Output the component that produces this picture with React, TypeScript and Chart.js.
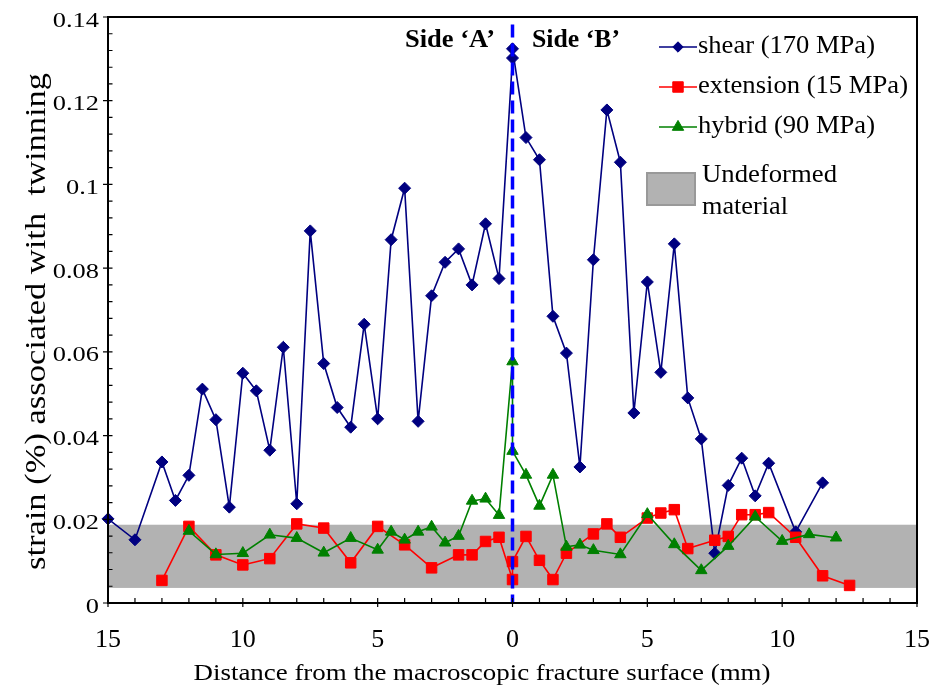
import { useEffect, useRef } from 'react';
import { Chart, registerables } from 'chart.js';

Chart.register(...registerables);

// Distance from the macroscopic fracture surface in mm (negative = side A, positive = side B)
// and strain (%) associated with twinning, one pair of arrays per test.
const shearX = [
  -15, -14, -13, -12.5, -12, -11.5, -11, -10.5, -10, -9.5, -9, -8.5, -8, -7.5, -7, -6.5, -6, -5.5, -5,
  -4.5, -4, -3.5, -3, -2.5, -2, -1.5, -1, -0.5, 0, 0, 0.5, 1, 1.5, 2, 2.5, 3, 3.5, 4, 4.5, 5, 5.5, 6,
  6.5, 7, 7.5, 8, 8.5, 9, 9.5, 10.5, 11.5,
];
const shearY = [
  0.0201, 0.0151, 0.0337, 0.0245, 0.0305, 0.0511, 0.0438, 0.0229, 0.0549, 0.0507, 0.0365, 0.0611,
  0.0237, 0.0889, 0.0572, 0.0467, 0.042, 0.0666, 0.044, 0.0868, 0.0991, 0.0434, 0.0734, 0.0814,
  0.0846, 0.076, 0.0906, 0.0775, 0.1302, 0.1324, 0.1112, 0.1059, 0.0685, 0.0597, 0.0325, 0.082,
  0.1178, 0.1053, 0.0454, 0.0767, 0.0551, 0.0858, 0.049, 0.0392, 0.0119, 0.0281, 0.0346, 0.0256,
  0.0334, 0.017, 0.0287,
];

const extensionX = [
  -13, -12, -11, -10, -9, -8, -7, -6, -5, -4, -3, -2, -1.5, -1, -0.5, 0, 0, 0.5, 1, 1.5, 2, 3, 3.5, 4,
  5, 5.5, 6, 6.5, 7.5, 8, 8.5, 9, 9.5, 10.5, 11.5, 12.5,
];
const extensionY = [
  0.0054, 0.0183, 0.0115, 0.0091, 0.0106, 0.0189, 0.0179, 0.0096, 0.0183, 0.0139, 0.0084, 0.0115,
  0.0115, 0.0147, 0.0157, 0.0056, 0.0099, 0.0159, 0.0102, 0.0056, 0.0119, 0.0165, 0.0189, 0.0157,
  0.0203, 0.0215, 0.0223, 0.013, 0.015, 0.0159, 0.0211, 0.0211, 0.0216, 0.0157, 0.0065, 0.0042,
];

const hybridX = [
  -12, -11, -10, -9, -8, -7, -6, -5, -4.5, -4, -3.5, -3, -2.5, -2, -1.5, -1, -0.5, 0, 0, 0.5, 1, 1.5,
  2, 2.5, 3, 4, 5, 6, 7, 8, 9, 10, 11, 12,
];
const hybridY = [
  0.0172, 0.0116, 0.0119, 0.0163, 0.0155, 0.012, 0.0155, 0.0127, 0.017, 0.0151, 0.017, 0.0182,
  0.0144, 0.016, 0.0244, 0.0249, 0.021, 0.0577, 0.0363, 0.0306, 0.0232, 0.0306, 0.0134, 0.0139,
  0.0126, 0.0116, 0.0212, 0.014, 0.0078, 0.0136, 0.0206, 0.0148, 0.0164, 0.0156,
];

// Band of strain measured in undeformed material
const undeformedLow = 0.0036;
const undeformedHigh = 0.0187;

// Axis ranges and tick spacing
const xMin = -15;
const xMax = 15;
const xStep = 5;
const xMinorStep = 1;
const yMin = 0;
const yMax = 0.14;
const yStep = 0.02;
const yMinorStep = 0.004;
const dividerTop = 0.1382;

const seriesLabels = ['shear (170 MPa)', 'extension (15 MPa)', 'hybrid (90 MPa)'];
const bandLabels = ['Undeformed', 'material'];
const sideLabels = ['Side \u2018A\u2019', 'Side \u2018B\u2019'];
const xTitle = 'Distance from the macroscopic fracture surface (mm)';
const yTitle = 'strain (%) associated with  twinning';

const SERIF = '"Liberation Serif", "Times New Roman", serif';
const NAVY = '#000080';
const RED = '#ff0000';
const GREEN = '#008000';
const BAND = '#b2b2b2';

type Shape = 'diamond' | 'square' | 'triangle';

const styles: { color: string; shape: Shape; chartStyle: string; radius: number }[] = [
  { color: NAVY, shape: 'diamond', chartStyle: 'rectRot', radius: 6 },
  { color: RED, shape: 'square', chartStyle: 'rect', radius: 7.4 },
  { color: GREEN, shape: 'triangle', chartStyle: 'triangle', radius: 6.6 },
];

function drawMarker(ctx: CanvasRenderingContext2D, shape: Shape, x: number, y: number, r: number, color: string) {
  ctx.save();
  ctx.fillStyle = color;
  ctx.strokeStyle = color;
  ctx.lineWidth = 1;
  ctx.beginPath();
  if (shape === 'diamond') {
    ctx.moveTo(x - r, y);
    ctx.lineTo(x, y - r);
    ctx.lineTo(x + r, y);
    ctx.lineTo(x, y + r);
  } else if (shape === 'square') {
    const h = r * Math.SQRT1_2;
    ctx.rect(x - h, y - h, 2 * h, 2 * h);
  } else {
    const s = r * Math.sin((2 * Math.PI) / 3);
    ctx.moveTo(x, y - r);
    ctx.lineTo(x + s, y + r / 2);
    ctx.lineTo(x - s, y + r / 2);
  }
  ctx.closePath();
  ctx.fill();
  ctx.stroke();
  ctx.restore();
}

// Text with an optional horizontal stretch (sx) or a fixed target width
function drawText(
  ctx: CanvasRenderingContext2D,
  text: string,
  x: number,
  y: number,
  font: string,
  align: CanvasTextAlign,
  opts: { sx?: number; width?: number } = {},
) {
  ctx.save();
  ctx.font = font;
  ctx.fillStyle = '#000';
  ctx.textAlign = align;
  ctx.textBaseline = 'alphabetic';
  let sx = opts.sx ?? 1;
  if (opts.width) sx = opts.width / ctx.measureText(text).width;
  ctx.translate(x, y);
  ctx.scale(sx, 1);
  ctx.fillText(text, 0, 0);
  ctx.restore();
}

const fmtY = (v: number) => (Math.abs(v) < 1e-9 ? '0' : String(+v.toFixed(2)));

const decorations = {
  id: 'decorations',
  beforeDatasetsDraw(chart: Chart) {
    const { ctx, chartArea: a } = chart;
    const ys = chart.scales.y;
    const top = ys.getPixelForValue(undeformedHigh);
    const bot = ys.getPixelForValue(undeformedLow);
    ctx.save();
    ctx.fillStyle = BAND;
    ctx.fillRect(a.left, top, a.right - a.left, bot - top);
    ctx.restore();
  },
  afterDraw(chart: Chart) {
    const { ctx, chartArea: a } = chart;
    const xs = chart.scales.x;
    const ys = chart.scales.y;
    const x0 = xs.getPixelForValue(0);

    // dashed line at the fracture surface
    ctx.save();
    ctx.strokeStyle = '#0000ff';
    ctx.lineWidth = 3.5;
    ctx.setLineDash([13, 6]);
    ctx.beginPath();
    ctx.moveTo(x0, ys.getPixelForValue(dividerTop));
    ctx.lineTo(x0, a.bottom);
    ctx.stroke();
    ctx.restore();

    // frame
    ctx.save();
    ctx.strokeStyle = '#000';
    ctx.lineWidth = 2;
    ctx.strokeRect(a.left, a.top, a.right - a.left, a.bottom - a.top);

    // y ticks (major crossing the axis, minor inside)
    ctx.lineWidth = 1.2;
    ctx.beginPath();
    const nY = Math.round((yMax - yMin) / yMinorStep);
    const perMajorY = Math.round(yStep / yMinorStep);
    for (let i = 0; i <= nY; i++) {
      const py = ys.getPixelForValue(yMin + i * yMinorStep);
      const major = i % perMajorY === 0;
      ctx.moveTo(major ? a.left - 5 : a.left, py);
      ctx.lineTo(a.left + 4.5, py);
    }
    // x ticks
    const nX = Math.round((xMax - xMin) / xMinorStep);
    const perMajorX = Math.round(xStep / xMinorStep);
    for (let i = 0; i <= nX; i++) {
      const px = xs.getPixelForValue(xMin + i * xMinorStep);
      const major = i % perMajorX === 0;
      ctx.moveTo(px, major ? a.bottom + 4 : a.bottom);
      ctx.lineTo(px, a.bottom - 5);
    }
    ctx.stroke();
    ctx.restore();

    // tick labels
    ys.ticks.forEach((t) => {
      const py = ys.getPixelForValue(t.value);
      drawText(ctx, fmtY(t.value), a.left - 9, py + 9.5, `22px ${SERIF}`, 'right', { sx: 1.2 });
    });
    xs.ticks.forEach((t) => {
      const px = xs.getPixelForValue(t.value);
      drawText(ctx, String(Math.abs(t.value)), px, a.bottom + 43.5, `25px ${SERIF}`, 'center', { sx: 1.04 });
    });

    // axis titles
    drawText(ctx, xTitle, 193.5, 680, `23px ${SERIF}`, 'left', { width: 577 });
    ctx.save();
    ctx.translate(45, 570);
    ctx.rotate(-Math.PI / 2);
    drawText(ctx, yTitle, 0, 0, `29px ${SERIF}`, 'left', { width: 497 });
    ctx.restore();

    // side labels either side of the fracture surface
    drawText(ctx, sideLabels[0], x0 - 17.5, 47, `bold 25px ${SERIF}`, 'right', { width: 90 });
    drawText(ctx, sideLabels[1], x0 + 19.5, 47, `bold 25px ${SERIF}`, 'left', { width: 88 });

    // legend
    const rowsY = [47, 87, 127];
    const widths = [177, 210, 177];
    seriesLabels.forEach((label, i) => {
      const st = styles[i];
      ctx.save();
      ctx.strokeStyle = st.color;
      ctx.lineWidth = 1.6;
      ctx.beginPath();
      ctx.moveTo(659, rowsY[i]);
      ctx.lineTo(697, rowsY[i]);
      ctx.stroke();
      ctx.restore();
      drawMarker(ctx, st.shape, 678, rowsY[i], i === 0 ? 5.2 : st.radius, st.color);
      drawText(ctx, label, 698, rowsY[i] + 5.5, `25px ${SERIF}`, 'left', { width: widths[i] });
    });
    ctx.save();
    ctx.fillStyle = BAND;
    ctx.strokeStyle = '#999999';
    ctx.lineWidth = 2;
    ctx.fillRect(647, 173, 48, 32);
    ctx.strokeRect(647, 173, 48, 32);
    ctx.restore();
    drawText(ctx, bandLabels[0], 702, 182, `25px ${SERIF}`, 'left', { width: 135 });
    drawText(ctx, bandLabels[1], 702, 214, `25px ${SERIF}`, 'left', { width: 86 });
  },
};

export default function App() {
  const ref = useRef<HTMLCanvasElement>(null);

  useEffect(() => {
    const sets = [
      { xs: shearX, ys: shearY, order: 3 },
      { xs: extensionX, ys: extensionY, order: 2 },
      { xs: hybridX, ys: hybridY, order: 1 },
    ];
    const chart = new Chart(ref.current as HTMLCanvasElement, {
      type: 'line',
      data: {
        datasets: sets.map((s, i) => ({
          label: seriesLabels[i],
          data: s.xs.map((x, j) => ({ x, y: s.ys[j] })),
          order: s.order,
          borderColor: styles[i].color,
          backgroundColor: styles[i].color,
          pointBackgroundColor: styles[i].color,
          pointBorderColor: styles[i].color,
          pointStyle: styles[i].chartStyle as any,
          pointRadius: styles[i].radius,
          pointBorderWidth: 1,
          borderWidth: 1.6,
          tension: 0,
          fill: false,
          clip: false as any,
        })),
      },
      options: {
        responsive: false,
        animation: false,
        devicePixelRatio: 1,
        layout: { padding: { top: 17, right: 21, left: 0, bottom: 0 } },
        plugins: { legend: { display: false }, tooltip: { enabled: false } },
        events: [],
        scales: {
          x: {
            type: 'linear',
            min: xMin,
            max: xMax,
            ticks: { stepSize: xStep, display: false },
            grid: { display: false, drawTicks: false },
            border: { display: false },
            afterFit: (scale: any) => {
              scale.height = 83;
            },
          },
          y: {
            type: 'linear',
            min: yMin,
            max: yMax,
            ticks: { stepSize: yStep, display: false },
            grid: { display: false, drawTicks: false },
            border: { display: false },
            afterFit: (scale: any) => {
              scale.width = 108;
            },
          },
        },
      },
      plugins: [decorations],
    });
    return () => chart.destroy();
  }, []);

  return (
    <div style={{ position: 'absolute', left: 0, top: 0, width: 938, height: 686, background: '#fff' }}>
      <canvas ref={ref} width={938} height={686} style={{ display: 'block' }} />
    </div>
  );
}
